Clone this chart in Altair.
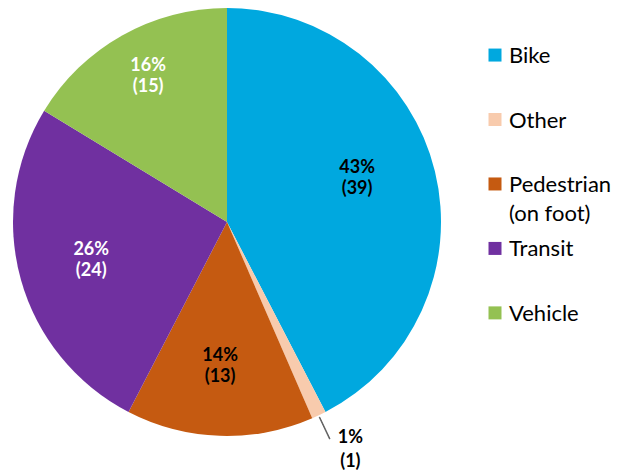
import altair as alt
import pandas as pd

categories = ["Bike", "Other", "Pedestrian (on foot)", "Transit", "Vehicle"]
legend_text = ["Bike", "Other", "Pedestrian\n(on foot)", "Transit", "Vehicle"]
counts = [39, 1, 13, 24, 15]
percents = [43, 1, 14, 26, 16]
colors = ["#00A8DF", "#F8CBAD", "#C55A11", "#7030A0", "#94C152"]

df = pd.DataFrame({
    "category": categories,
    "legend": legend_text,
    "count": counts,
    "pct": percents,
    "order": list(range(len(categories))),
})
df["label"] = [f"{p}%\n({c})" for p, c in zip(percents, counts)]

color_scale = alt.Scale(domain=categories, range=colors)

base = (
    alt.Chart(df)
    .transform_joinaggregate(total="sum(count)")
    .transform_window(cum="sum(count)", sort=[alt.SortField("order")])
    .transform_calculate(
        start="(datum.cum - datum.count) / datum.total * 2 * PI",
        end="datum.cum / datum.total * 2 * PI",
        mid="(datum.cum - datum.count / 2) / datum.total * 2 * PI",
    )
)

pie = base.mark_arc(outerRadius=214).encode(
    theta=alt.Theta("start:Q", scale=None),
    theta2="end:Q",
    color=alt.Color("category:N", scale=color_scale, legend=None),
)

# label placement style: (radius, dx, dy, line height)
label_style = {
    "Bike": (137, -3, -22, 21),
    "Other": (250, 16, -10, 24),
    "Pedestrian (on foot)": (143, -2, -9, 21),
    "Transit": (141, 0, -10, 21),
    "Vehicle": (167, 3, -10, 21),
}
white_text = ["Transit", "Vehicle"]

label_layers = []
for cat in categories:
    r, dx, dy, lh = label_style[cat]
    label_layers.append(
        base.transform_filter(alt.FieldEqualPredicate(field="category", equal=cat))
        .mark_text(
            radius=r, dx=dx, dy=dy, font="Lato", fontWeight="bold", fontSize=18,
            lineBreak="\n", lineHeight=lh,
            color="white" if cat in white_text else "black",
        )
        .encode(theta=alt.Theta("mid:Q", scale=None), text="label:N")
    )

leader = (
    base.transform_filter("datum.category == 'Other'")
    .transform_calculate(mid2="datum.mid + 0.003")
    .mark_arc(radius=240, radius2=216, color="#595959", stroke="#595959", strokeWidth=0.8)
    .encode(theta=alt.Theta("mid:Q", scale=None), theta2="mid2:Q")
)

pie_panel = alt.layer(pie, leader, *label_layers).properties(width=428, height=428)

leg_base = alt.Chart(df).encode(
    y=alt.Y("order:Q", scale=alt.Scale(domain=[-0.73, 5.91], reverse=True), axis=None)
)
leg_sq = leg_base.mark_square(size=169, opacity=1).encode(
    color=alt.Color("category:N", scale=color_scale, legend=None)
)
leg_txt = leg_base.mark_text(
    align="left", baseline="alphabetic", dx=14, dy=8, font="Lato", fontSize=22,
    lineBreak="\n", lineHeight=29, color="black"
).encode(text="legend:N")

legend_panel = alt.layer(leg_sq, leg_txt).properties(width=14, height=428)

chart = (
    alt.hconcat(pie_panel, legend_panel, spacing=47)
    .properties(padding={"left": 5, "top": 0, "right": 0, "bottom": 0})
    .configure_view(stroke=None)
)

chart.save("out.html", embed_options={"renderer": "svg", "actions": False})
